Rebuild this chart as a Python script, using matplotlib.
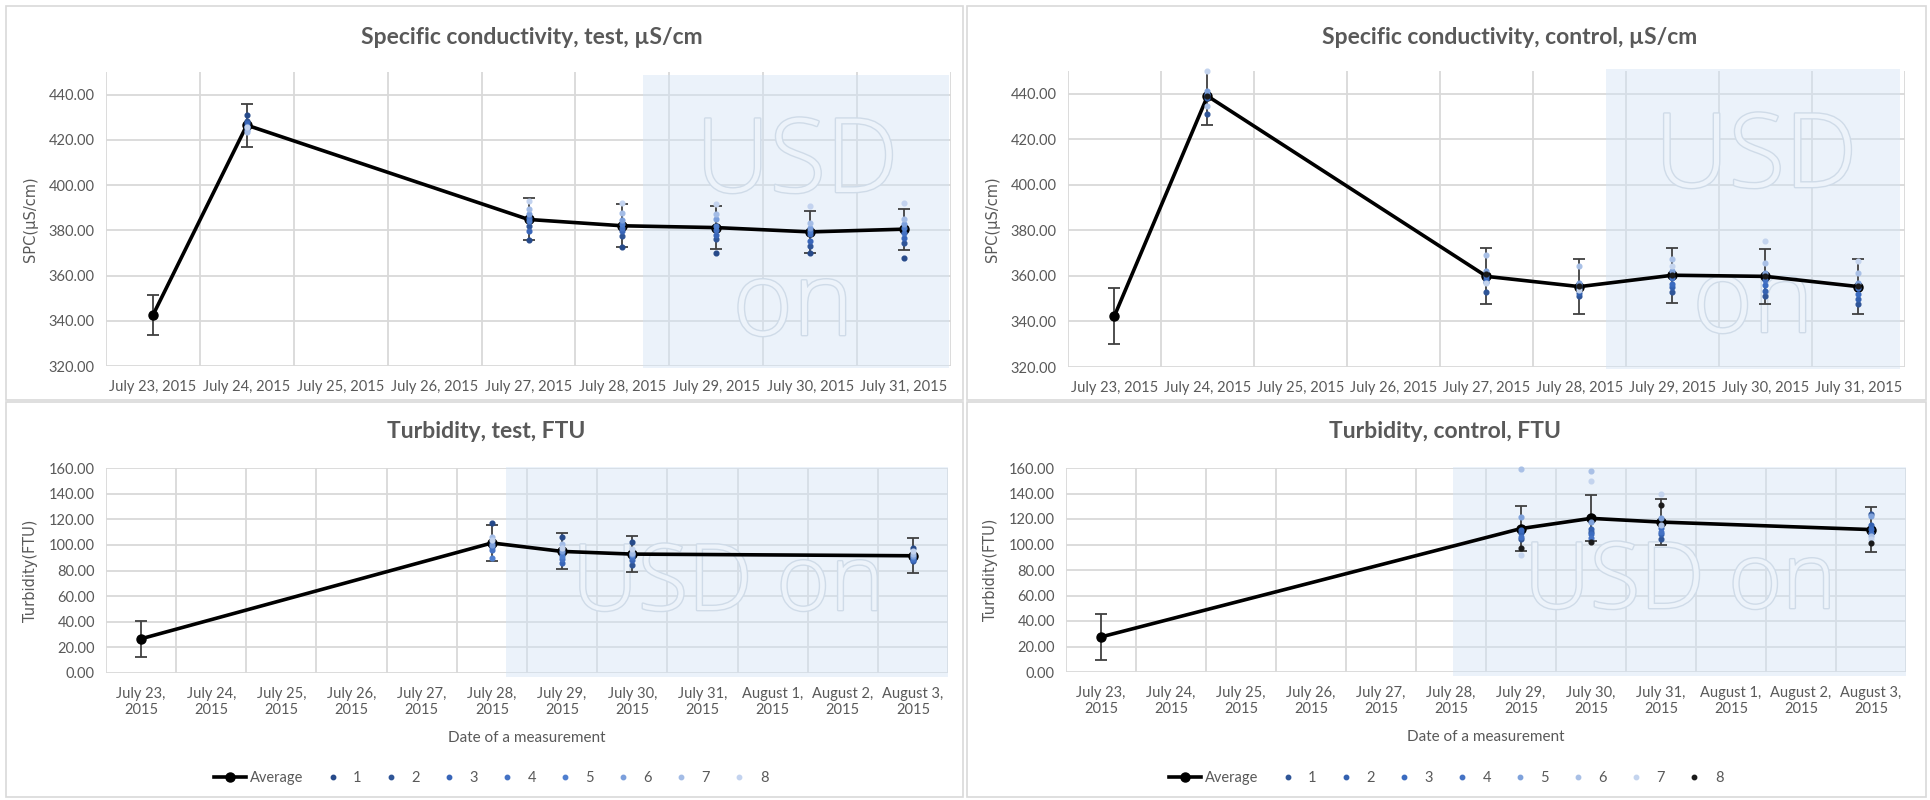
import numpy as np
import matplotlib.pyplot as plt
import matplotlib.patheffects as pe
from matplotlib.patches import Rectangle
from matplotlib.lines import Line2D

plt.rcParams['font.family'] = ['Lato', 'DejaVu Sans']

nan = np.nan

# ---- data -------------------------------------------------------------
spc_dates = ["July 23, 2015", "July 24, 2015", "July 25, 2015", "July 26, 2015",
             "July 27, 2015", "July 28, 2015", "July 29, 2015", "July 30, 2015",
             "July 31, 2015"]
turb_dates = ["July 23,\n2015", "July 24,\n2015", "July 25,\n2015", "July 26,\n2015",
              "July 27,\n2015", "July 28,\n2015", "July 29,\n2015", "July 30,\n2015",
              "July 31,\n2015", "August 1,\n2015", "August 2,\n2015", "August 3,\n2015"]
series_names = ["1", "2", "3", "4", "5", "6", "7", "8"]

# specific conductivity, test
spc_test_avg = [342.5, 426.5, nan, nan, 384.8, 382.0, 381.2, 379.3, 380.5]
spc_test_sd = [9.0, 9.5, nan, nan, 9.3, 9.5, 9.5, 9.3, 9.0]
spc_test_runs = [
    [nan] * 8,
    [431.0, 428.5, 427.5, 426.0, 425.5, 424.5, 423.5, 425.5],
    [nan] * 8,
    [nan] * 8,
    [375.6, 381.9, 379.7, 385.3, 384.1, 387.1, 389.3, 393.0],
    [372.6, 377.5, 379.7, 381.2, 382.7, 384.4, 387.5, 392.2],
    [370.1, 376.0, 377.9, 380.0, 381.9, 384.9, 387.1, 391.5],
    [370.1, 373.1, 375.3, 378.2, 379.7, 381.2, 383.4, 390.8],
    [367.6, 374.5, 376.7, 378.9, 380.9, 382.7, 384.9, 392.2],
]

# specific conductivity, control
spc_ctrl_avg = [342.5, 439.0, nan, nan, 359.8, 355.3, 360.3, 359.8, 355.3]
spc_ctrl_sd = [12.3, 12.5, nan, nan, 12.3, 12.2, 12.0, 12.2, 12.2]
spc_ctrl_runs = [
    [nan] * 8,
    [431.0, 438.0, 439.5, 440.0, 441.0, 434.5, 450.0, 439.0],
    [nan] * 8,
    [nan] * 8,
    [353.0, 357.5, 358.5, 360.0, 362.0, 369.0, 357.0, 361.0],
    [351.0, 352.5, 354.5, 356.0, 357.0, 364.5, 354.0, 355.5],
    [353.0, 355.0, 356.5, 359.0, 362.0, 367.5, 364.5, 360.5],
    [351.0, 353.5, 356.0, 358.0, 361.5, 365.5, 375.5, 360.0],
    [347.5, 350.0, 352.0, 354.5, 357.0, 361.5, 366.5, 355.5],
]

# turbidity, test
turb_test_avg = [26.7, nan, nan, nan, nan, 101.5, 94.9, 92.8, nan, nan, nan, 91.5]
turb_test_sd = [13.9, nan, nan, nan, nan, 14.0, 14.0, 13.8, nan, nan, nan, 13.7]
turb_test_runs = [
    [nan] * 8,
    [nan] * 8,
    [nan] * 8,
    [nan] * 8,
    [nan] * 8,
    [117.0, 101.5, 98.0, 96.0, 90.0, 100.0, 106.0, 103.5],
    [106.0, 93.5, 86.0, 89.0, 91.0, 95.0, 101.0, 97.5],
    [102.5, 84.5, 88.5, 90.5, 92.0, 93.0, 94.0, 97.0],
    [nan] * 8,
    [nan] * 8,
    [nan] * 8,
    [97.5, 87.5, 88.0, 89.0, 90.5, 91.5, 93.0, 95.0],
]

# turbidity, control
turb_ctrl_avg = [27.5, nan, nan, nan, nan, nan, 112.5, 120.5, 117.6, nan, nan, 111.7]
turb_ctrl_sd = [17.8, nan, nan, nan, nan, nan, 17.6, 18.0, 17.9, nan, nan, 17.4]
turb_ctrl_runs = [
    [nan] * 8,
    [nan] * 8,
    [nan] * 8,
    [nan] * 8,
    [nan] * 8,
    [nan] * 8,
    [104.0, 109.0, 111.0, 106.0, 121.5, 159.5, 92.0, 97.0],
    [110.0, 112.0, 108.0, 105.0, 118.0, 158.0, 150.0, 102.0],
    [104.0, 108.0, 113.0, 110.0, 121.0, 115.0, 140.0, 131.0],
    [nan] * 8,
    [nan] * 8,
    [124.0, 115.0, 112.0, 109.0, 122.0, 107.0, 104.0, 101.0],
]

test_colors = ['#264a8a', '#2f5597', '#3865b8', '#4472c4', '#4f7fcf',
               '#7b9fdc', '#a3bce6', '#c3d3ef']
ctrl_colors = ['#2f5597', '#3361b0', '#3a6bc0', '#4472c4', '#7ea1db',
               '#a9c0e6', '#c4d4ee', '#1a1a1a']

# ---- figure -------------------------------------------------------------
W, H = 1931, 800
fig = plt.figure(figsize=(W / 100, H / 100), dpi=100)
GRAY = '#595959'
GRID = '#d9d9d9'


def fx(px):
    return px / W


def fy(py):
    return 1 - py / H


# chart frames
for l, t, r, b in [(6, 6, 963, 400), (967, 6, 1926, 400),
                   (6, 402, 963, 797), (967, 402, 1926, 797)]:
    fig.patches.append(Rectangle((fx(l), fy(b)), fx(r - l), (b - t) / H,
                                 transform=fig.transFigure, fill=False,
                                 edgecolor='#d9d9d9', lw=1.2))


def panel(box, dates, avg, sd, runs, colors, ylim, yticks, shade, title, title_xy,
          ylabel, ylabel_x, marks, legend_x=None, xlabel=False):
    l, t, r, b = box
    ax = fig.add_axes([fx(l), fy(b), fx(r - l), (b - t) / H])
    x = np.arange(len(dates))
    avg = np.array(avg)
    sd = np.array(sd)
    runs = np.array(runs)
    m = ~np.isnan(avg)

    ax.set_xlim(-0.5, len(dates) - 0.5)
    ax.set_ylim(*ylim)
    ax.set_xticks(x)
    ax.set_xticklabels(dates)
    ax.set_xticks(np.arange(len(dates) + 1) - 0.5, minor=True)
    ax.set_yticks(yticks)
    ax.set_yticklabels([f"{v:.2f}" for v in yticks])
    ax.set_axisbelow(True)
    ax.grid(which='minor', axis='x', color=GRID, lw=1.3)
    ax.grid(which='major', axis='y', color=GRID, lw=1.3)
    ax.grid(which='major', axis='x', visible=False)
    for s in ax.spines.values():
        s.set_visible(False)
    ax.tick_params(which='both', length=0, colors=GRAY, labelsize=10.5)
    ax.tick_params(axis='y', pad=8)
    ax.tick_params(axis='x', pad=10)

    # shaded overlay with watermark
    x0, x1, y0, y1 = shade
    ax.add_patch(Rectangle((x0, y0), x1 - x0, y1 - y0, facecolor='#d3e4f6',
                           alpha=0.45, edgecolor='none', zorder=1, clip_on=False))
    for txt, cx, by, size in marks:
        ax.text(fx(cx), fy(by), txt, transform=fig.transFigure, ha='center',
                va='baseline', fontsize=size, family='Open Sans', weight='light',
                color='#edf3fa', zorder=1.2,
                path_effects=[pe.Stroke(linewidth=2.0, foreground='#cfdbe8'), pe.Normal()])

    ax.errorbar(x[m], avg[m], yerr=sd[m], fmt='none', ecolor='#404040',
                elinewidth=1.3, capsize=4, capthick=1.3, zorder=3)
    ax.plot(x[m], avg[m], '-o', color='black', lw=2.6, ms=6.5, zorder=3.5,
            label='Average')
    for k, name in enumerate(series_names):
        ax.plot(x, runs[:, k], 'o', ms=3.4, color=colors[k], ls='none',
                zorder=4, label=name, clip_on=False)

    fig.text(fx(title_xy[0]), fy(title_xy[1]), title, ha='center', va='center',
             fontsize=16.5, weight='bold', color=GRAY)
    ax.set_ylabel(ylabel, family='DejaVu Sans', fontsize=10.5, color=GRAY)
    ax.yaxis.set_label_coords((ylabel_x - l) / (r - l), 0.5)

    if xlabel:
        ax.set_xlabel('Date of a measurement', fontsize=11, color=GRAY, labelpad=10)
    if legend_x is not None:
        handles = [Line2D([], [], color='black', lw=2.6, marker='o', ms=6.5)]
        handles += [Line2D([], [], ls='none', marker='o', ms=3.2, color=c) for c in colors]
        ax.legend(handles, ['Average'] + series_names, loc='center',
                  bbox_to_anchor=(fx(legend_x), fy(778)), bbox_transform=fig.transFigure,
                  ncol=9, frameon=False, fontsize=10.5, labelcolor=GRAY,
                  handlelength=2.2, handletextpad=0.3, columnspacing=0.9)
    return ax


panel((106, 72, 951, 366), spc_dates, spc_test_avg, spc_test_sd, spc_test_runs,
      test_colors, (320, 450), list(range(320, 441, 20)), (5.22, 8.48, 319, 448.7),
      'Specific conductivity, test, µS/cm', (532, 37), 'SPC(µS/cm)', 38,
      [('USD', 797, 192, 74), ('on', 793, 335, 74)])

panel((1068, 71, 1905, 367), spc_dates, spc_ctrl_avg, spc_ctrl_sd, spc_ctrl_runs,
      ctrl_colors, (320, 450), list(range(320, 441, 20)), (5.29, 8.45, 319, 451),
      'Specific conductivity, control, µS/cm', (1510, 37), 'SPC(µS/cm)', 1000,
      [('USD', 1756, 187, 74), ('on', 1753, 332, 74)])

panel((106, 468, 948, 673), turb_dates, turb_test_avg, turb_test_sd, turb_test_runs,
      test_colors, (0, 160), list(range(0, 161, 20)), (5.2, 11.5, -3, 160.5),
      'Turbidity, test, FTU', (486, 432), 'Turbidity(FTU)', 38,
      [('USD on', 728, 610, 66)], legend_x=491, xlabel=True)

panel((1066, 468, 1906, 672), turb_dates, turb_ctrl_avg, turb_ctrl_sd, turb_ctrl_runs,
      ctrl_colors, (0, 160), list(range(0, 161, 20)), (5.03, 11.5, -3, 161),
      'Turbidity, control, FTU', (1445, 432), 'Turbidity(FTU)', 998,
      [('USD on', 1680, 608, 66)], legend_x=1446, xlabel=True)

fig.savefig('out.png', dpi=100)
